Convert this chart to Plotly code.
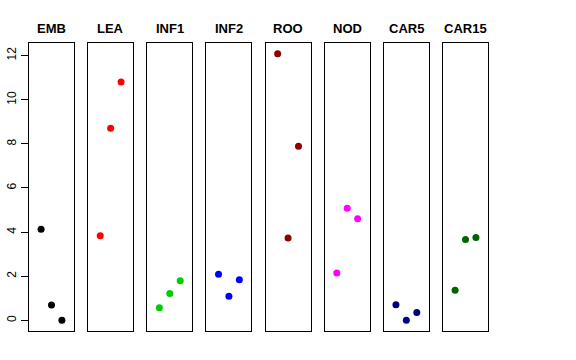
import plotly.graph_objects as go

tissues = ["EMB", "LEA", "INF1", "INF2", "ROO", "NOD", "CAR5", "CAR15"]
colors = ["#000000", "#FF0000", "#00CD00", "#0000FF", "#8B0000", "#FF00FF", "#000080", "#006400"]
x_pos = [1, 2, 3]
values = {
    "EMB":   [4.13, 0.69, 0.00],
    "LEA":   [3.84, 8.71, 10.81],
    "INF1":  [0.57, 1.22, 1.80],
    "INF2":  [2.09, 1.09, 1.84],
    "ROO":   [12.09, 3.73, 7.89],
    "NOD":   [2.15, 5.08, 4.61],
    "CAR5":  [0.71, 0.00, 0.35],
    "CAR15": [1.36, 3.67, 3.75],
}
y_ticks = [0, 2, 4, 6, 8, 10, 12]

W, H = 576, 360
left, right, top, bottom = 29, 488, 43, 331
panel_w = 45
step = (right - left - panel_w) / 7

fig = go.Figure()
all_vals = [v for t in tissues for v in values[t]]
ymin, ymax = min(all_vals), max(all_vals)
ext = (ymax - ymin) * 0.04
yr = [ymin - ext, ymax + ext]
xr = [0 - 0.16, 4 + 0.16]

pw = right - left
for i, (t, c) in enumerate(zip(tissues, colors)):
    n = "" if i == 0 else str(i + 1)
    x0 = (i * step) / pw
    x1 = (i * step + panel_w) / pw
    fig.add_trace(go.Scatter(x=x_pos, y=values[t], mode="markers",
                             marker=dict(color=c, size=7),
                             xaxis="x" + n, yaxis="y" + n, showlegend=False))
    fig.layout["xaxis" + n] = dict(domain=[x0, x1], range=xr, showgrid=False, zeroline=False,
                                  showticklabels=False, ticks="", showline=True, mirror=True,
                                  linecolor="black", linewidth=1, anchor="y" + n,
                                  fixedrange=True, automargin=False)
    ya = dict(range=yr, showgrid=False, zeroline=False, showline=True, mirror=True,
              linecolor="black", linewidth=1, anchor="x" + n, fixedrange=True, automargin=False)
    if i == 0:
        ya.update(ticks="outside", ticklen=7, tickcolor="black", tickvals=y_ticks,
                  ticktext=[str(v) for v in y_ticks], tickangle=-90,
                  tickfont=dict(family="Liberation Sans, Arial", size=12, color="black"))
    else:
        ya.update(showticklabels=False, ticks="", matches="y")
    fig.layout["yaxis" + n] = ya
    fig.add_annotation(text="<b>%s</b>" % t, x=(x0 + x1) / 2, y=1, xref="paper", yref="paper",
                       xanchor="center", yanchor="bottom", yshift=5, showarrow=False,
                       font=dict(family="Liberation Sans, Arial", size=13, color="black"))

fig.update_layout(width=W, height=H, plot_bgcolor="white", paper_bgcolor="white",
                  margin=dict(l=left, r=W - right, t=top, b=H - bottom, pad=0))
fig.write_html("out.html", config={"displayModeBar": False},
               post_script="document.body.style.margin='0';")
